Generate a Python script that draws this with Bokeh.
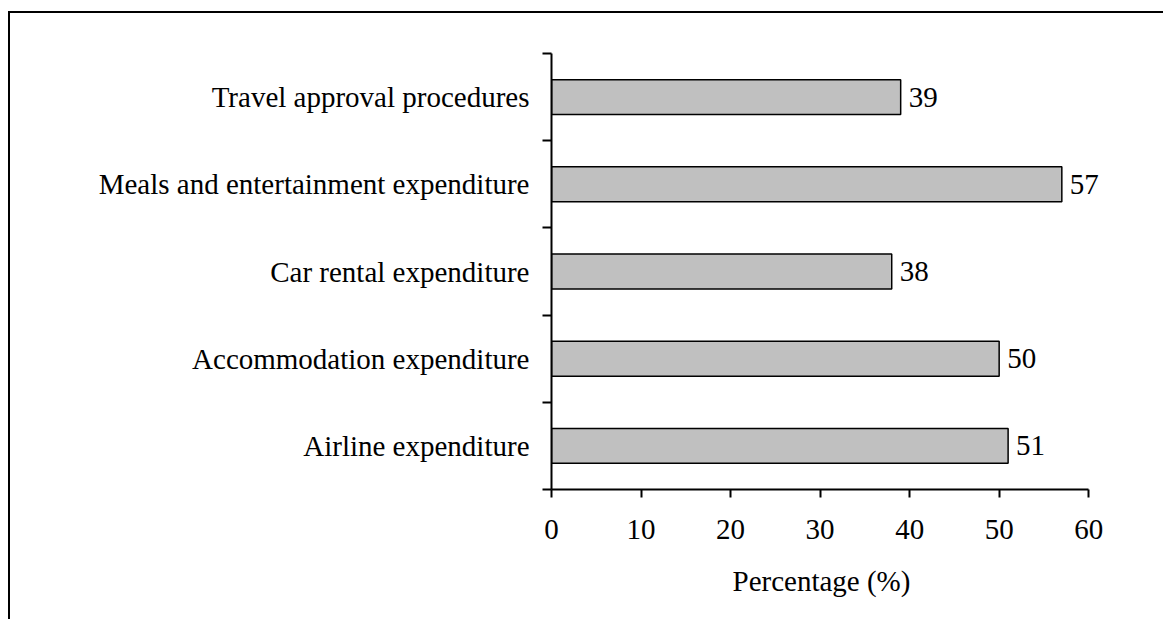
import numpy as np
from bokeh.plotting import figure
from bokeh.models import ColumnDataSource, FixedTicker, Range1d, LabelSet, Title
from bokeh.core.properties import value
from bokeh.embed import file_html
from bokeh.resources import INLINE

# Data (bottom to top)
categories = ["Airline expenditure", "Accommodation expenditure", "Car rental expenditure",
              "Meals and entertainment expenditure", "Travel approval procedures"]
percentages = [51, 50, 38, 57, 39]
x_ticks = [0, 10, 20, 30, 40, 50, 60]
x_title = "Percentage (%)"

FONT = "Liberation Serif"
FS = "29px"

pos = np.arange(len(categories)) + 0.5
src = ColumnDataSource(dict(y=pos, v=percentages, lab=[str(v) for v in percentages]))

p = figure(width=1155, height=608, output_backend="svg", toolbar_location=None,
           x_range=Range1d(0, 64), y_range=Range1d(0, len(categories)),
           min_border_left=541, min_border_right=41, min_border_top=40, min_border_bottom=132,
           styles={"border-top": "2px solid black", "border-left": "2px solid black",
                   "margin-top": "11px", "margin-left": "8px"})
p.outline_line_color = None
p.grid.visible = False
p.background_fill_color = "white"
p.border_fill_color = "white"

p.hbar(y="y", right="v", left=0, height=0.4, source=src,
       fill_color="#c0c0c0", line_color="black", line_width=1.5)
labels = LabelSet(x="v", y="y", text="lab", source=src, x_offset=8, text_align="left",
                  text_baseline="middle", text_font=value(FONT), text_font_size=FS,
                  text_color="black")
p.add_layout(labels)

# x axis
xa = p.xaxis[0]
xa.bounds = (x_ticks[0], x_ticks[-1])
xa.ticker = FixedTicker(ticks=x_ticks, minor_ticks=[])
xa.major_label_text_font = FONT
xa.major_label_text_font_size = FS
xa.major_label_text_color = "black"
xa.major_label_standoff = 22
xa.axis_line_color = "black"
xa.axis_line_width = 2
xa.major_tick_line_color = "black"
xa.major_tick_line_width = 2
xa.major_tick_out = 8
xa.major_tick_in = 0
xa.minor_tick_line_color = None

# x axis title, centred under the 0-60 axis line
p.add_layout(Title(text=x_title, align="left", offset=181, standoff=42,
                   text_font=FONT, text_font_size=FS, text_font_style="normal",
                   text_color="black"), "below")

# y axis
ya = p.yaxis[0]
ya.ticker = FixedTicker(ticks=list(pos), minor_ticks=list(range(len(categories) + 1)))
ya.major_label_overrides = {float(t): c for t, c in zip(pos, categories)}
ya.major_label_text_font = FONT
ya.major_label_text_font_size = FS
ya.major_label_text_color = "black"
ya.major_label_standoff = 13
ya.axis_line_color = "black"
ya.axis_line_width = 2
ya.major_tick_line_color = None
ya.major_tick_out = 9
ya.major_tick_in = 0
ya.minor_tick_line_color = "black"
ya.minor_tick_line_width = 2
ya.minor_tick_out = 9
ya.minor_tick_in = 0

open("out.html", "w").write(file_html(p, INLINE))
